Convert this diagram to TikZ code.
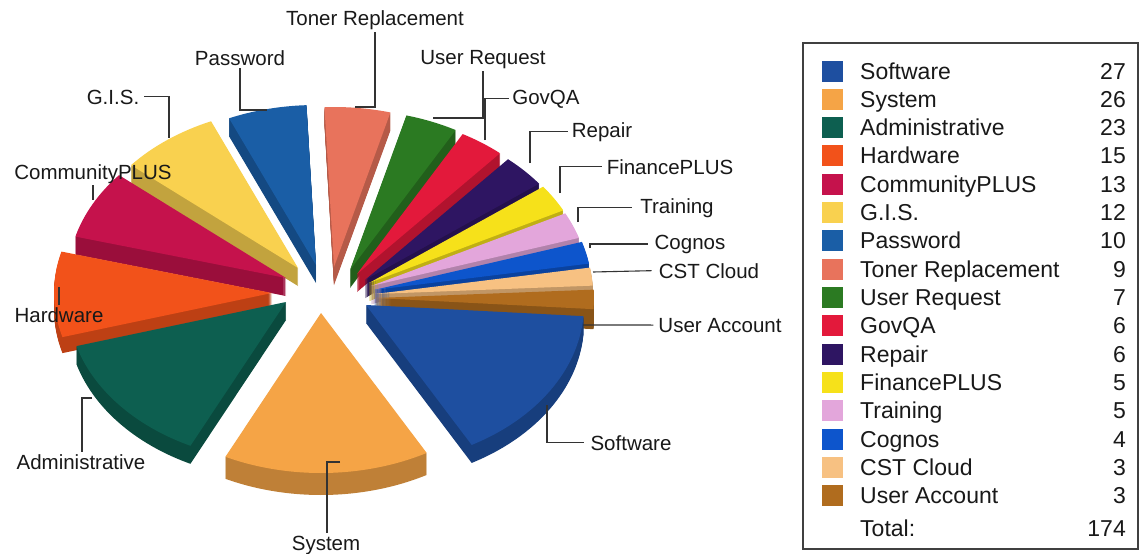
\documentclass[tikz,border=0pt]{standalone}
\usepackage{fontspec}
\setmainfont{Liberation Sans}
\definecolor{cSoftware}{HTML}{1E4FA0}
\definecolor{cSystem}{HTML}{F5A446}
\definecolor{cAdmin}{HTML}{0D5F50}
\definecolor{cHardware}{HTML}{F2521A}
\definecolor{cCommunity}{HTML}{C5124C}
\definecolor{cGIS}{HTML}{F9D14F}
\definecolor{cPassword}{HTML}{1A5EA6}
\definecolor{cToner}{HTML}{E8735C}
\definecolor{cUserReq}{HTML}{2B7A22}
\definecolor{cGovQA}{HTML}{E3193B}
\definecolor{cRepair}{HTML}{2E1562}
\definecolor{cFinance}{HTML}{F6E11A}
\definecolor{cTraining}{HTML}{E3A6DB}
\definecolor{cCognos}{HTML}{0D55CC}
\definecolor{cCST}{HTML}{F7C182}
\definecolor{cUserAcc}{HTML}{B06C1E}
\tikzset{
  lead/.style={draw=black!80, line width=1.1pt},
  lbl/.style={inner sep=0pt, font=\fontsize{20.5}{24}\selectfont, text=black!90},
  legtxt/.style={inner sep=0pt, font=\fontsize{23}{27}\selectfont, text=black!90},
}
% #1 apex x, #2 apex y (pixels, down), #3 start angle, #4 end angle, #5 colour, #6 thickness
\newcommand{\pieslice}[6]{%
  \foreach \dd in {1,...,#6}{%
    \fill[#5!78!black] (#1,{-#2-\dd}) -- ++(#3:218pt and 160pt)
      arc[start angle=#3,end angle=#4,x radius=218pt,y radius=160pt] -- cycle;
  }%
  \fill[#5] (#1,-#2) -- ++(#3:218pt and 160pt)
      arc[start angle=#3,end angle=#4,x radius=218pt,y radius=160pt] -- cycle;
}
\begin{document}
\begin{tikzpicture}[x=1pt,y=1pt]
\useasboundingbox (0,0) rectangle (1141,-554);
\fill[white] (0,0) rectangle (1141,-554);
% ---- pie slices, back to front ----
\pieslice{334}{267}{92.5}{75}{cToner}{18}
\pieslice{316}{265}{113.5}{92.5}{cPassword}{18}
\pieslice{350}{270}{75}{61}{cUserReq}{18}
\pieslice{357}{274}{61}{49}{cGovQA}{18}
\pieslice{298}{268}{140}{113.5}{cGIS}{18}
\pieslice{365}{280}{49}{37}{cRepair}{18}
\pieslice{369}{283}{37}{27}{cFinance}{18}
\pieslice{371}{286}{27}{17.5}{cTraining}{18}
\pieslice{286}{278}{165}{140}{cCommunity}{18}
\pieslice{374}{290}{17.5}{9.5}{cCognos}{18}
\pieslice{375}{294}{9.5}{3}{cCST}{18}
\pieslice{376}{298}{3}{-4}{cUserAcc}{20}
\pieslice{272}{293}{-164}{-195}{cHardware}{16}
\pieslice{366}{305}{-4}{-61}{cSoftware}{18}
\pieslice{286}{302}{-116}{-164}{cAdmin}{18}
\pieslice{321}{313}{-61}{-116}{cSystem}{22}
% ---- labels ----
\node[lbl, anchor=base] (lToner) at (375,-25) {Toner Replacement};
\node[lbl, anchor=base] (lPass) at (240,-65) {Password};
\node[lbl, anchor=base] (lGIS) at (113,-104) {G.I.S.};
\node[lbl, anchor=base] (lCom) at (93,-179) {CommunityPLUS};
\node[lbl, anchor=base] (lHW) at (59,-322) {Hardware};
\node[lbl, anchor=base] (lAdm) at (81,-469) {Administrative};
\node[lbl, anchor=base] (lSys) at (326,-550) {System};
\node[lbl, anchor=base] (lSoft) at (631,-450) {Software};
\node[lbl, anchor=base] (lUA) at (720,-332) {User Account};
\node[lbl, anchor=base] (lCST) at (709,-278) {CST Cloud};
\node[lbl, anchor=base] (lCog) at (690,-249) {Cognos};
\node[lbl, anchor=base] (lTr) at (677,-213) {Training};
\node[lbl, anchor=base] (lFin) at (670,-174) {FinancePLUS};
\node[lbl, anchor=base] (lRep) at (602,-137) {Repair};
\node[lbl, anchor=base] (lGov) at (546,-104) {GovQA};
\node[lbl, anchor=base] (lUR) at (483,-64) {User Request};
% ---- leader lines ----
\coordinate (cToner) at (355,-107);
\coordinate (cPass) at (267,-110);
\coordinate (cGIS) at (169,-138);
\coordinate (cCom) at (93,-200);
\coordinate (cHW) at (59,-287);
\coordinate (cAdm) at (92,-398);
\coordinate (cSys) at (340,-462);
\coordinate (cSoft) at (547,-405);
\coordinate (cUA) at (583,-325);
\coordinate (cCST) at (593,-272);
\coordinate (cCog) at (590,-248);
\coordinate (cTr) at (578,-222);
\coordinate (cFin) at (560,-193);
\coordinate (cRep) at (530,-163);
\coordinate (cGov) at (485,-140);
\coordinate (cUR) at (433,-118);
\draw[lead] ([yshift=-3pt]lToner.south) |- (cToner);
\draw[lead] ([yshift=-3pt]lPass.south) |- (cPass);
\draw[lead] ([xshift=5pt]lGIS.east) -| (cGIS);
\draw[lead] ([yshift=-2pt]lCom.south) -- (cCom);
\draw[lead] (cHW) -- ([yshift=2pt]lHW.north);
\draw[lead] (cAdm) -| ([xshift=1pt,yshift=2pt]lAdm.north);
\draw[lead] (cSys) -| ([xshift=1pt,yshift=2pt]lSys.north);
\draw[lead] (cSoft) |- ([xshift=-6pt]lSoft.west);
\draw[lead] (cUA) -- ([xshift=-5pt]lUA.west);
\draw[lead] (cCST) -- ([xshift=-7pt]lCST.west);
\draw[lead] (cCog) |- ([xshift=-6pt]lCog.west);
\draw[lead] (cTr) |- ([xshift=-8pt]lTr.west);
\draw[lead] (cFin) |- ([xshift=-5pt]lFin.west);
\draw[lead] (cRep) |- ([xshift=-4pt]lRep.west);
\draw[lead] (cGov) |- ([xshift=-3pt]lGov.west);
\draw[lead] ([yshift=-3pt]lUR.south) |- (cUR);
% ---- legend ----
\node[draw=black!75, line width=1.2pt, minimum width=335pt, minimum height=506pt, inner sep=0pt] (legend) at (970.5,-296) {};
\foreach \nm/\col/\cnt [count=\i from 0] in {Software/cSoftware/27, System/cSystem/26, Administrative/cAdmin/23, Hardware/cHardware/15, CommunityPLUS/cCommunity/13, G.I.S./cGIS/12, Password/cPassword/10, Toner Replacement/cToner/9, User Request/cUserReq/7, GovQA/cGovQA/6, Repair/cRepair/6, FinancePLUS/cFinance/5, Training/cTraining/5, Cognos/cCognos/4, CST Cloud/cCST/3, User Account/cUserAcc/3}{
  \pgfmathsetmacro\yy{-71-28.33*\i}
  \fill[\col] (822,\yy+10.5) rectangle ++(21,-21);
  \node[legtxt, anchor=base west] (lg\i) at (860,\yy-8) {\nm};
  \node[legtxt, anchor=base east] (lgn\i) at (1126,\yy-8) {\cnt};
}
\node[legtxt, anchor=base west] (lgTotal) at (860,-536) {Total:};
\node[legtxt, anchor=base east] (lgTotalN) at (1126,-536) {174};
\end{tikzpicture}
\end{document}
